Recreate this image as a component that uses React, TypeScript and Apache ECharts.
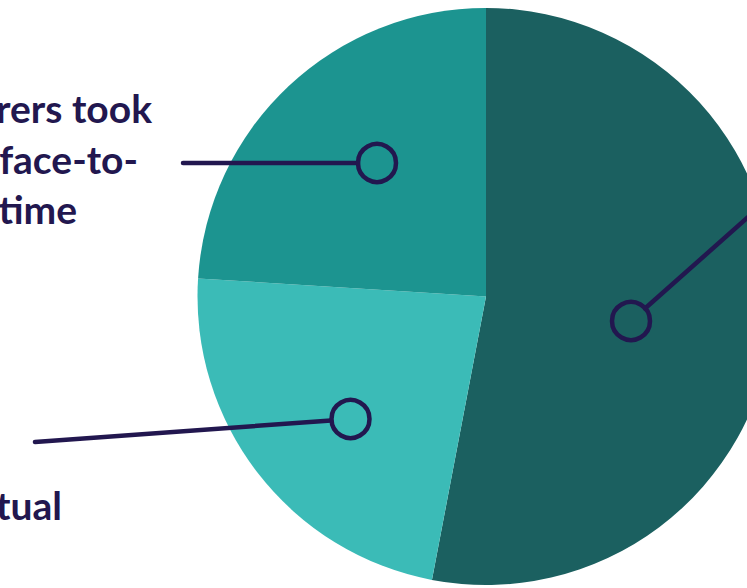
import React, { useEffect, useRef } from "react";
import * as echarts from "echarts";

const categories = ["Dark share", "Virtual", "Face-to-face"];
const values = [53, 23, 24];
const sliceColors = ["#1B6060", "#3BBBB7", "#1C9490"];
// Only the parts of the labels visible inside the frame
const labelTopLines = ["rers took", "face-to-", "time"];
const labelBottomLines = ["tual"];

const NAVY = "#22174F";
const FONT = "bold 39px Lato, 'Open Sans', sans-serif";

export default function App() {
  const ref = useRef<HTMLDivElement>(null);
  useEffect(() => {
    if (!ref.current) return;
    const chart = echarts.init(ref.current, undefined, { renderer: "svg" });
    const topRights = [152, 138, 77];
    const topMids = [108, 159, 209];
    const graphics: any[] = [];
    labelTopLines.forEach((t, i) => {
      graphics.push({
        type: "text",
        x: topRights[i],
        y: topMids[i],
        style: { text: t, font: FONT, fill: NAVY, align: "right", verticalAlign: "middle" },
      });
    });
    labelBottomLines.forEach((t) => {
      graphics.push({
        type: "text",
        x: 62,
        y: 505,
        style: { text: t, font: FONT, fill: NAVY, align: "right", verticalAlign: "middle" },
      });
    });
    const lineStyle = { stroke: NAVY, lineWidth: 4.5, lineCap: "round" };
    graphics.push(
      { type: "line", shape: { x1: 183, y1: 163, x2: 358, y2: 163 }, style: lineStyle, z: 10 },
      { type: "circle", shape: { cx: 377, cy: 163, r: 19 }, style: { fill: "none", stroke: NAVY, lineWidth: 4.5 }, z: 10 },
      { type: "line", shape: { x1: 35, y1: 442, x2: 331, y2: 420.5 }, style: lineStyle, z: 10 },
      { type: "circle", shape: { cx: 350.5, cy: 419, r: 19 }, style: { fill: "none", stroke: NAVY, lineWidth: 4.5 }, z: 10 },
      { type: "line", shape: { x1: 645, y1: 308.5, x2: 800, y2: 171 }, style: lineStyle, z: 10 },
      { type: "circle", shape: { cx: 631, cy: 321, r: 19 }, style: { fill: "none", stroke: NAVY, lineWidth: 4.5 }, z: 10 }
    );
    chart.setOption({
      animation: false,
      backgroundColor: "#ffffff",
      series: [
        {
          type: "pie",
          center: [486, 296.5],
          radius: 288.5,
          startAngle: 90,
          clockwise: true,
          label: { show: false },
          labelLine: { show: false },
          emphasis: { disabled: true },
          itemStyle: { borderWidth: 0 },
          data: categories.map((c, i) => ({
            name: c,
            value: values[i],
            itemStyle: { color: sliceColors[i] },
          })),
        },
      ],
      graphic: graphics,
    });
    return () => chart.dispose();
  }, []);
  return (
    <div
      ref={ref}
      style={{ position: "absolute", left: 0, top: 0, width: 747, height: 588 }}
    />
  );
}
